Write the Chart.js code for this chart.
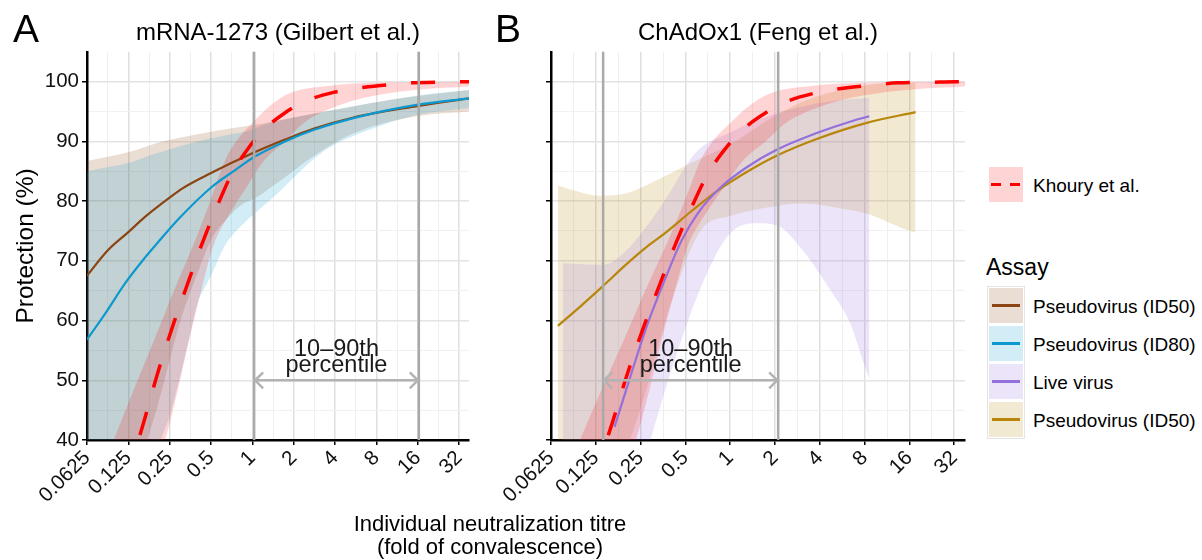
<!DOCTYPE html>
<html>
<head>
<meta charset="utf-8">
<script src="https://cdn.jsdelivr.net/npm/chart.js@4.4.0/dist/chart.umd.min.js"></script>
<style>
  body { margin: 0; background: #fff; }
  #wrap { position: relative; width: 1202px; height: 560px; overflow: hidden; background: #fff;
          font-family: "Liberation Sans", Arial, Helvetica, sans-serif; color: #000; }
  canvas { position: absolute; top: 0; }
  .txt { position: absolute; white-space: nowrap; line-height: 1; }
  .key { position: absolute; width: 34px; height: 35px; }
</style>
</head>
<body>
<div id="wrap">
  <canvas id="chartA" width="480" height="560" style="left:0px"></canvas>
  <canvas id="chartB" width="485" height="560" style="left:490px"></canvas>
  <div class="txt" style="left:13px;top:9px;font-size:39px">A</div>
  <div class="txt" style="left:495px;top:9px;font-size:39px">B</div>
  <div class="txt" style="left:290px;top:512px;width:400px;text-align:center;font-size:22px;line-height:23px">Individual neutralization titre<br>(fold of convalescence)</div>
  <div id="legend"></div>
</div>
<script>
// axis ticks
var xTickValues = [0.0625, 0.125, 0.25, 0.5, 1, 2, 4, 8, 16, 32];
var xTickLabels = ["0.0625", "0.125", "0.25", "0.5", "1", "2", "4", "8", "16", "32"];
var yTickValues = [40, 50, 60, 70, 80, 90, 100];
var xMin = 0.0625, xMax = 37.8, yMin = 40, yMax = 105;

// Khoury et al. (same in both panels)
var khouryX = [0.12, 0.148, 0.161, 0.202, 0.267, 0.343, 0.429, 0.6, 0.709, 0.937, 1.205, 1.733, 2.42, 3.89, 5.76, 9.0, 13.3, 22, 32.5, 37.8];
var khouryY = [33, 40, 42.8, 50.8, 59.5, 66.6, 72.8, 81.0, 84.6, 88.9, 91.9, 94.8, 96.7, 98.2, 98.9, 99.4, 99.8, 99.9, 100, 100];
var khouryHiX = [0.0625, 0.0977, 0.14, 0.193, 0.274, 0.384, 0.494, 0.634, 0.789, 0.992, 1.35, 1.885, 3.68, 7.2, 37.8];
var khouryHiY = [29, 40, 49, 56.8, 65.5, 73.5, 80, 86.9, 90.5, 93, 96, 98.1, 99.3, 99.8, 100];
var khouryLoX = [0.0625, 0.15, 0.232, 0.284, 0.347, 0.424, 0.519, 0.69, 0.887, 1.24, 1.73, 2.34, 4.0, 7.2, 16.6, 37.8];
var khouryLoY = [5, 28, 40, 48, 56.8, 65, 72.5, 78, 82, 87, 90, 93, 95.8, 97.5, 98.7, 99.2];

// panel A: mRNA-1273, pseudovirus ID50
var a50X = [0.0625, 0.089, 0.125, 0.166, 0.25, 0.308, 0.5, 1.0, 1.73, 2.78, 5.45, 15.8, 37.8];
var a50Y = [67.5, 71.8, 74.8, 77.4, 80.6, 82.1, 84.7, 88.0, 90.3, 92.1, 94.0, 95.9, 97.2];
var a50HiX = [0.0625, 0.13, 0.2, 0.4, 0.75, 1.0, 1.5, 2.0, 4.0, 7.2, 16, 37.8];
var a50HiY = [86.7, 88.3, 89.7, 91.2, 92.3, 92.7, 93.4, 94.0, 95.3, 96.4, 97.6, 98.6];
var a50LoX = [0.0625, 0.2, 0.3, 0.4, 0.5, 0.65, 0.85, 1.05, 1.4, 1.73, 2.78, 5.4, 15.7, 37.8];
var a50LoY = [10, 45, 60, 68, 73.5, 77, 79.5, 80.5, 82.5, 84, 87.5, 91.3, 94.2, 95.0];

// panel A: pseudovirus ID80
var a80X = [0.0625, 0.085, 0.119, 0.166, 0.202, 0.29, 0.508, 0.75, 1.05, 1.73, 2.78, 5.44, 15.7, 37.8];
var a80Y = [56.8, 61.2, 66.3, 70.6, 72.9, 77.0, 82.4, 85.2, 87.5, 90.0, 91.9, 93.9, 96.1, 97.2];
var a80HiX = [0.0625, 0.13, 0.2, 0.4, 0.75, 0.887, 1.35, 2.0, 4.0, 7.2, 16, 37.8];
var a80HiY = [85.0, 86.5, 88.0, 90.0, 91.3, 91.6, 93.1, 94.0, 95.3, 96.4, 97.7, 98.6];
var a80LoX = [0.0625, 0.2, 0.25, 0.3, 0.35, 0.4, 0.45, 0.5, 0.63, 0.887, 1.05, 1.4, 1.73, 2.78, 4, 7.2, 15.7, 37.8];
var a80LoY = [-10, 38, 44, 51, 57.5, 63, 65.5, 67.5, 72.5, 76.5, 78, 80.5, 82.5, 87, 89.5, 92, 94.4, 95.6];

// panel B: ChAdOx1, live virus
var liveX = [0.167, 0.217, 0.28, 0.363, 0.469, 0.607, 0.871, 1.316, 2.05, 3.81, 6.38, 8.6];
var liveY = [42.2, 51.2, 59.6, 66.8, 73.3, 78.0, 82.4, 85.8, 88.6, 91.4, 93.3, 94.2];
var liveHiX = [0.0752, 0.14, 0.196, 0.34, 0.595, 1.0, 1.6, 3.0, 5.0, 8.6];
var liveHiY = [69.6, 69.3, 71.5, 79, 88.3, 91.5, 93.8, 95.8, 96.8, 97.3];
var liveLoX = [0.0752, 0.17, 0.28, 0.47, 0.70, 1.0, 1.52, 2.07, 3.12, 4.7, 6.4, 7.9, 8.6];
var liveLoY = [-20, 18, 38.5, 56.8, 68, 74.6, 76.3, 75.9, 71.5, 65.1, 59.5, 52.8, 50.2];

// panel B: pseudovirus ID50
var b50X = [0.0695, 0.0999, 0.14, 0.196, 0.28, 0.363, 0.548, 0.828, 1.316, 2.05, 3.81, 8.26, 17.6];
var b50Y = [59.1, 62.5, 65.8, 69.2, 72.5, 74.6, 78.3, 81.8, 85.0, 87.6, 90.4, 93.1, 94.9];
var b50HiX = [0.0695, 0.098, 0.134, 0.2, 0.32, 0.536, 1.0, 2.07, 3.6, 8.7, 17.6];
var b50HiY = [82.6, 81.5, 80.9, 81.3, 83.5, 86.3, 89.5, 94.5, 97.3, 99.5, 99.8];
var b50LoX = [0.0695, 0.134, 0.248, 0.39, 0.63, 1.0, 2.06, 2.96, 6.4, 8.7, 16.1, 17.6];
var b50LoY = [20, 28, 45, 62, 75, 77.5, 79.2, 79.6, 78.5, 77.7, 75, 74.8];

// 10-90th percentile ranges
var pctA = [1.03, 16.3];
var pctB = [0.14, 2.1];

var assayLabels = ["Pseudovirus (ID50)", "Pseudovirus (ID80)", "Live virus", "Pseudovirus (ID50)"];
var assayColors = ["#8B4513", "#0B99CF", "#9370DB", "#B8860B"];
var assayFills = ["rgba(139,69,19,0.18)", "rgba(11,153,207,0.18)", "rgba(147,112,219,0.18)", "rgba(184,134,11,0.18)"];
var redFill = "rgba(255,0,0,0.17)";

Chart.defaults.font.family = '"Liberation Sans", Arial, Helvetica, sans-serif';
Chart.defaults.color = "#111";

var xGridValues = [];
xTickValues.forEach(function (v, i) {
  xGridValues.push(v);
  if (i < xTickValues.length - 1) xGridValues.push(Math.sqrt(v * xTickValues[i + 1]));
});
var yGridValues = [];
yTickValues.forEach(function (v, i) {
  yGridValues.push(v);
  if (i < yTickValues.length - 1) yGridValues.push((v + yTickValues[i + 1]) / 2);
});

function pts(xs, ys) {
  return xs.map(function (x, i) { return { x: x, y: ys[i] }; });
}

function lineSet(xs, ys, color, width, order, dash) {
  return {
    data: pts(xs, ys),
    borderColor: color,
    borderWidth: width,
    borderDash: dash || [],
    borderCapStyle: "butt",
    pointRadius: 0,
    fill: false,
    cubicInterpolationMode: "monotone",
    order: order,
  };
}

function addBand(list, hiX, hiY, loX, loY, color, order) {
  var idx = list.length;
  list.push({ data: pts(hiX, hiY), borderWidth: 0, pointRadius: 0, fill: false,
              cubicInterpolationMode: "monotone", order: order });
  list.push({ data: pts(loX, loY), borderWidth: 0, pointRadius: 0, fill: idx,
              backgroundColor: color, cubicInterpolationMode: "monotone", order: order });
}

var percentilePlugin = {
  id: "percentile",
  afterDatasetsDraw: function (chart, args, opts) {
    var xs = chart.scales.x, ys = chart.scales.y, ca = chart.chartArea, c = chart.ctx;
    var x0 = xs.getPixelForValue(opts.range[0]);
    var x1 = xs.getPixelForValue(opts.range[1]);
    var y = ys.getPixelForValue(opts.at);
    c.save();
    c.strokeStyle = "#a9a9a9";
    c.lineWidth = 2.5;
    c.beginPath();
    c.moveTo(x0, ca.top); c.lineTo(x0, ca.bottom);
    c.moveTo(x1, ca.top); c.lineTo(x1, ca.bottom);
    c.stroke();
    c.strokeStyle = "#b3b3b3";
    c.beginPath();
    c.moveTo(x0, y); c.lineTo(x1, y);
    c.moveTo(x0 + 9, y - 8); c.lineTo(x0 + 1, y); c.lineTo(x0 + 9, y + 8);
    c.moveTo(x1 - 9, y - 8); c.lineTo(x1 - 1, y); c.lineTo(x1 - 9, y + 8);
    c.stroke();
    c.fillStyle = "#1a1a1a";
    c.font = '23.5px "Liberation Sans", Arial, sans-serif';
    c.textAlign = "center";
    var mx = (x0 + x1) / 2;
    c.fillText("10\u201390th", mx, y - 24);
    c.fillText("percentile", mx, y - 8);
    c.restore();
  },
};

function scalesFor(showY, yWidth) {
  return {
    x: {
      type: "logarithmic",
      min: xMin,
      max: xMax,
      afterBuildTicks: function (scale) {
        scale.ticks = xGridValues.map(function (v) { return { value: v }; });
      },
      afterFit: function (scale) { scale.height = 70; },
      ticks: {
        autoSkip: false,
        minRotation: 45,
        maxRotation: 45,
        padding: 1,
        font: { size: 20.5 },
        color: "#111",
        callback: function (value) {
          var i = xTickValues.indexOf(value);
          return i >= 0 ? xTickLabels[i] : "";
        },
      },
      grid: {
        color: function (c) { return xTickValues.indexOf(c.tick.value) >= 0 ? "#dfdfdf" : "#efefef"; },
        lineWidth: function (c) { return xTickValues.indexOf(c.tick.value) >= 0 ? 1.5 : 1; },
        tickColor: function (c) { return xTickValues.indexOf(c.tick.value) >= 0 ? "#000" : "rgba(0,0,0,0)"; },
        tickLength: 5,
        tickWidth: 1.5,
      },
      border: { color: "#000", width: 2.5 },
    },
    y: {
      min: yMin,
      max: yMax,
      afterBuildTicks: function (scale) {
        scale.ticks = yGridValues.map(function (v) { return { value: v }; });
      },
      afterFit: function (scale) { scale.width = yWidth; },
      ticks: {
        padding: 3,
        font: { size: 20.5 },
        color: "#111",
        callback: function (value) {
          return showY && yTickValues.indexOf(value) >= 0 ? String(value) : "";
        },
      },
      grid: {
        color: function (c) { return yTickValues.indexOf(c.tick.value) >= 0 ? "#e4e4e4" : "#f1f1f1"; },
        lineWidth: function (c) { return yTickValues.indexOf(c.tick.value) >= 0 ? 1.5 : 1; },
        tickColor: function (c) { return yTickValues.indexOf(c.tick.value) >= 0 ? "#000" : "rgba(0,0,0,0)"; },
        tickLength: 5,
        tickWidth: 1.5,
      },
      border: { color: "#000", width: 2.5 },
      title: {
        display: showY,
        text: "Protection (%)",
        font: { size: 24.5 },
        color: "#000",
        padding: { top: 12, bottom: 0 },
      },
    },
  };
}

// panel A
var dsA = [];
addBand(dsA, a50HiX, a50HiY, a50LoX, a50LoY, assayFills[0], 10);
addBand(dsA, a80HiX, a80HiY, a80LoX, a80LoY, assayFills[1], 9);
addBand(dsA, khouryHiX, khouryHiY, khouryLoX, khouryLoY, redFill, 8);
dsA.push(lineSet(a50X, a50Y, assayColors[0], 2.2, 5));
dsA.push(lineSet(a80X, a80Y, assayColors[1], 2.2, 4));
dsA.push(lineSet(khouryX, khouryY, "#FF0000", 3.5, 1, [24, 25]));

var ctx = document.getElementById("chartA").getContext("2d");
var chartA = new Chart(ctx, {
  type: "line",
  data: { datasets: dsA },
  options: {
    responsive: false,
    animation: false,
    layout: { padding: { left: 0, right: 11, top: 0, bottom: 50 } },
    scales: scalesFor(true, 87),
    plugins: {
      legend: { display: false },
      tooltip: { enabled: false },
      title: {
        display: true,
        text: "mRNA-1273 (Gilbert et al.)",
        fullSize: false,
        font: { size: 24, weight: "normal" },
        color: "#000",
        padding: { top: 19, bottom: 4 },
      },
      percentile: { range: pctA, at: 50 },
    },
  },
  plugins: [percentilePlugin],
});

// panel B
var dsB = [];
addBand(dsB, b50HiX, b50HiY, b50LoX, b50LoY, assayFills[3], 10);
addBand(dsB, liveHiX, liveHiY, liveLoX, liveLoY, assayFills[2], 9);
addBand(dsB, khouryHiX, khouryHiY, khouryLoX, khouryLoY, redFill, 8);
dsB.push(lineSet(b50X, b50Y, assayColors[3], 2.2, 5));
dsB.push(lineSet(liveX, liveY, assayColors[2], 2.2, 4));
dsB.push(lineSet(khouryX, khouryY, "#FF0000", 3.5, 1, [24, 25]));

var ctx = document.getElementById("chartB").getContext("2d");
var chartB = new Chart(ctx, {
  type: "line",
  data: { datasets: dsB },
  options: {
    responsive: false,
    animation: false,
    layout: { padding: { left: 0, right: 10, top: 0, bottom: 50 } },
    scales: scalesFor(false, 61),
    plugins: {
      legend: { display: false },
      tooltip: { enabled: false },
      title: {
        display: true,
        text: "ChAdOx1 (Feng et al.)",
        fullSize: false,
        font: { size: 24, weight: "normal" },
        color: "#000",
        padding: { top: 19, bottom: 4 },
      },
      percentile: { range: pctB, at: 50 },
    },
  },
  plugins: [percentilePlugin],
});

// legend on the right
var legend = document.getElementById("legend");
var html = "";
html += '<div class="key" style="left:989px;top:167px;background:' + redFill + '">' +
        '<div style="position:absolute;left:2px;top:16px;width:10px;height:3px;background:#f00"></div>' +
        '<div style="position:absolute;left:21px;top:16px;width:10px;height:3px;background:#f00"></div></div>';
html += '<div class="txt" style="left:1033px;top:176px;font-size:19px">Khoury et al.</div>';
html += '<div class="txt" style="left:986px;top:256px;font-size:23px">Assay</div>';
html += '<div style="position:absolute;left:987px;top:286px;width:36px;height:151px;border:1px solid #e4e4e4"></div>';
var keyTops = [288, 326, 364, 402];
assayLabels.forEach(function (label, i) {
  html += '<div class="key" style="left:989px;top:' + keyTops[i] + 'px;background:' + assayFills[i] + '">' +
          '<div style="position:absolute;left:3px;top:16px;width:28px;height:2.5px;background:' + assayColors[i] + '"></div></div>';
  html += '<div class="txt" style="left:1033px;top:' + (keyTops[i] + 9) + 'px;font-size:19px">' + label + '</div>';
});
legend.innerHTML = html;
</script>
</body>
</html>
